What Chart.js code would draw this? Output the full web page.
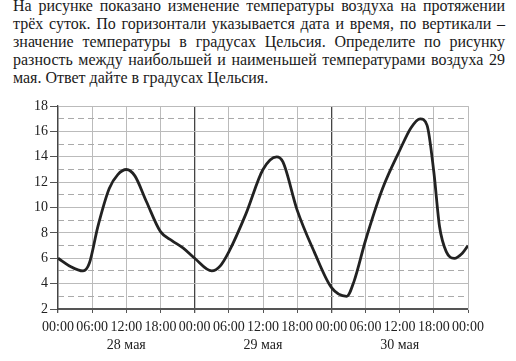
<!DOCTYPE html>
<html lang="ru">
<head>
<meta charset="utf-8">
<script src="https://cdn.jsdelivr.net/npm/chart.js@4"></script>
<style>
  html, body { margin: 0; padding: 0; background: #fff; }
  body { width: 516px; height: 361px; position: relative; overflow: hidden; }
  .task {
    position: absolute; left: 13px; top: -3px; width: 492px;
    font-family: 'Liberation Serif', serif; font-size: 16px; line-height: 17.9px; color: #1a1a1a;
  }
  .task div { text-align: justify; text-align-last: justify; white-space: nowrap; }
  .task div.last { text-align-last: left; }
  #wrap { position: absolute; left: 0; top: 95px; width: 516px; height: 266px; }
</style>
</head>
<body>
<div class="task">
  <div>На рисунке показано изменение температуры воздуха на протяжении</div>
  <div>трёх суток. По горизонтали указывается дата и время, по вертикали –</div>
  <div>значение температуры в градусах Цельсия. Определите по рисунку</div>
  <div>разность между наибольшей и наименьшей температурами воздуха 29</div>
  <div class="last">мая. Ответ дайте в градусах Цельсия.</div>
</div>
<div id="wrap"><canvas id="tempChart" width="516" height="266"></canvas></div>
<script>
// часы от 00:00 28 мая и температура
const hours = [0, 2, 4.4, 5.5, 7, 9, 10.5, 12, 13.5, 15.5, 18, 20, 22, 24, 27, 28.5, 30, 33, 36, 38.4, 39.5, 42, 45, 48, 50.7, 52, 54, 57, 60, 62, 63.6, 64.8, 66, 67, 68.2, 69.6, 71, 72];
const temps = [6, 5.4, 5.0, 5.6, 8.5, 11.5, 12.6, 13, 12.5, 10.5, 8.1, 7.4, 6.8, 6.0, 5.0, 5.4, 6.5, 9.5, 13, 14, 13.6, 9.8, 6.5, 3.7, 3.0, 4.2, 7.4, 11.5, 14.5, 16.3, 17, 16.5, 12.8, 8.5, 6.5, 6.0, 6.4, 7.0];

const timeLabels = ['00:00', '06:00', '12:00', '18:00', '00:00', '06:00', '12:00', '18:00', '00:00', '06:00', '12:00', '18:00', '00:00'];
const dayLabels = ['28 мая', '29 мая', '30 мая'];
const yMin = 2, yMax = 18;
const dashedTicks = [3, 5, 7, 9, 11, 13, 15, 17];

const points = hours.map((h, i) => ({ x: h, y: temps[i] }));
const tickFont = { family: 'Liberation Serif', size: 14, lineHeight: 1.3 };

new Chart(document.getElementById('tempChart'), {
    type: 'line',
    data: {
        datasets: [{
            data: points,
            borderColor: '#222',
            borderWidth: 2.8,
            pointRadius: 0,
            fill: false,
            cubicInterpolationMode: 'monotone'
        }]
    },
    options: {
        responsive: false,
        devicePixelRatio: 1,
        animation: false,
        layout: { padding: { left: 0, top: 10, right: 48, bottom: 0 } },
        plugins: { legend: { display: false }, tooltip: { enabled: false } },
        scales: {
            x: {
                type: 'linear',
                min: 0,
                max: 72,
                afterBuildTicks: (scale) => {
                    scale.ticks = timeLabels.map((_, i) => ({ value: i * 6 }));
                },
                afterFit: (scale) => { scale.height = 52; },
                ticks: {
                    color: '#222',
                    font: tickFont,
                    padding: 5,
                    maxRotation: 0,
                    autoSkip: false,
                    callback: (value, i) => {
                        const label = timeLabels[i];
                        if (value % 24 === 12) return [label, dayLabels[Math.floor(value / 24)]];
                        return label;
                    }
                },
                grid: {
                    color: (ctx) => (ctx.tick && ctx.tick.value % 24 === 0 && ctx.tick.value < 72) ? '#444' : '#bbb',
                    lineWidth: (ctx) => (ctx.tick && ctx.tick.value % 24 === 0 && ctx.tick.value < 72) ? 1.3 : 1,
                    tickLength: 4,
                    tickColor: '#555'
                },
                border: { color: '#555', width: 2 }
            },
            y: {
                min: yMin,
                max: yMax,
                afterFit: (scale) => { scale.width = 58; },
                ticks: {
                    stepSize: 2,
                    color: '#222',
                    font: tickFont,
                    padding: 2
                },
                grid: {
                    color: (ctx) => (ctx.tick && ctx.tick.value === yMin) ? '#555' : '#bbb',
                    tickLength: 8,
                    tickColor: '#555'
                },
                border: { color: '#444', width: 1.3 }
            },
            y2: {
                position: 'right',
                min: yMin,
                max: yMax,
                afterBuildTicks: (scale) => {
                    scale.ticks = dashedTicks.map(v => ({ value: v }));
                },
                afterFit: (scale) => { scale.width = 0; },
                ticks: { display: false },
                grid: { color: '#aaa', drawTicks: false },
                border: { display: false, dash: [6, 4] }
            }
        }
    }
});
</script>
</body>
</html>
